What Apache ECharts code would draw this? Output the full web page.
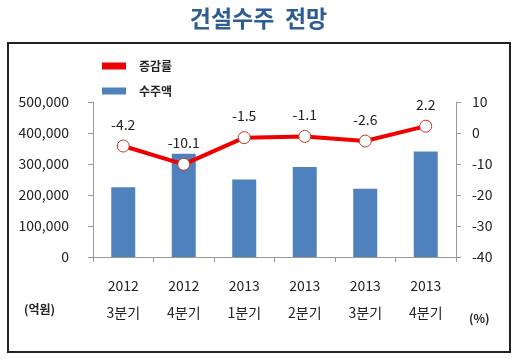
<!DOCTYPE html>
<html><head><meta charset="utf-8">
<script src="https://cdn.jsdelivr.net/npm/echarts@6/dist/echarts.min.js"></script>
<style>html,body{margin:0;padding:0;background:#fff}#c{width:517px;height:359px}</style>
</head><body><div id="c"></div>
<script>
const years = ['2012','2012','2013','2013','2013','2013'];
const quarters = ['3분기','4분기','1분기','2분기','3분기','4분기'];
const orders = [225000, 333000, 250000, 290000, 220000, 340000];
const growth = [-4.2, -10.1, -1.5, -1.1, -2.6, 2.2];
const leftTicks = {min:0, max:500000, interval:100000};
const rightTicks = {min:-40, max:10, interval:10};

const categories = years.map((y,i)=>y+'\n'+quarters[i]);
const font = '"Noto Sans CJK KR", "Liberation Sans", sans-serif';
const chart = echarts.init(document.getElementById('c'));
chart.setOption({
  animation:false,
  textStyle:{fontFamily:font},
  title:{text:'건설수주  전망', left:'center', top:2,
    textStyle:{fontSize:23, fontWeight:'bold', color:'#2f5d8f', fontFamily:font}},
  graphic:[
    {type:'rect', shape:{x:8,y:43,width:502,height:309}, style:{fill:'none', stroke:'#222', lineWidth:2}, z:-1},
    {type:'text', left:24, top:303, style:{text:'(억원)', font:'bold 12px '+font, fill:'#222'}},
    {type:'text', left:469, top:312, style:{text:'(%)', font:'bold 12px '+font, fill:'#222'}}
  ],
  legend:{orient:'vertical', left:97, top:55, itemGap:13, itemWidth:24, itemHeight:7,
    textStyle:{fontSize:12, fontWeight:'bold', color:'#222', padding:[0,0,0,8]},
    data:[
      {name:'증감률', icon:'rect', itemStyle:{color:'#ee0000', borderWidth:0}},
      {name:'수주액', icon:'rect', itemStyle:{color:'#4f81bd', borderWidth:0}}]},
  grid:{left:93, right:61, top:102, bottom:102, containLabel:false},
  xAxis:{type:'category', data:categories,
    axisLine:{lineStyle:{color:'#999'}},
    axisTick:{show:true, length:5, lineStyle:{color:'#999'}},
    axisLabel:{color:'#222', fontSize:14, lineHeight:27, margin:15, fontFamily:font}},
  yAxis:[
    {type:'value', min:leftTicks.min, max:leftTicks.max, interval:leftTicks.interval,
      axisLine:{show:true, lineStyle:{color:'#999'}},
      axisTick:{show:true, length:5, lineStyle:{color:'#999'}},
      splitLine:{show:false},
      axisLabel:{color:'#222', fontSize:14, margin:24,
        formatter:v=>v.toLocaleString('en-US')}},
    {type:'value', min:rightTicks.min, max:rightTicks.max, interval:rightTicks.interval,
      axisLine:{show:true, lineStyle:{color:'#999'}},
      axisTick:{show:true, length:5, lineStyle:{color:'#999'}},
      splitLine:{show:false},
      axisLabel:{color:'#222', fontSize:14, margin:16}}
  ],
  series:[
    {name:'수주액', type:'bar', data:orders, barWidth:24, yAxisIndex:0,
      itemStyle:{color:'#4f81bd'}},
    {name:'증감률', type:'line', data:growth, yAxisIndex:1,
      lineStyle:{color:'#ee0000', width:4},
      itemStyle:{color:'#fff', borderColor:'#c0392b', borderWidth:1},
      symbol:'circle', symbolSize:12, z:5,
      label:{show:true, position:'top', distance:8, color:'#222', fontSize:14,
        formatter:p=>p.value.toFixed(1)}}
  ]
});
</script></body></html>
